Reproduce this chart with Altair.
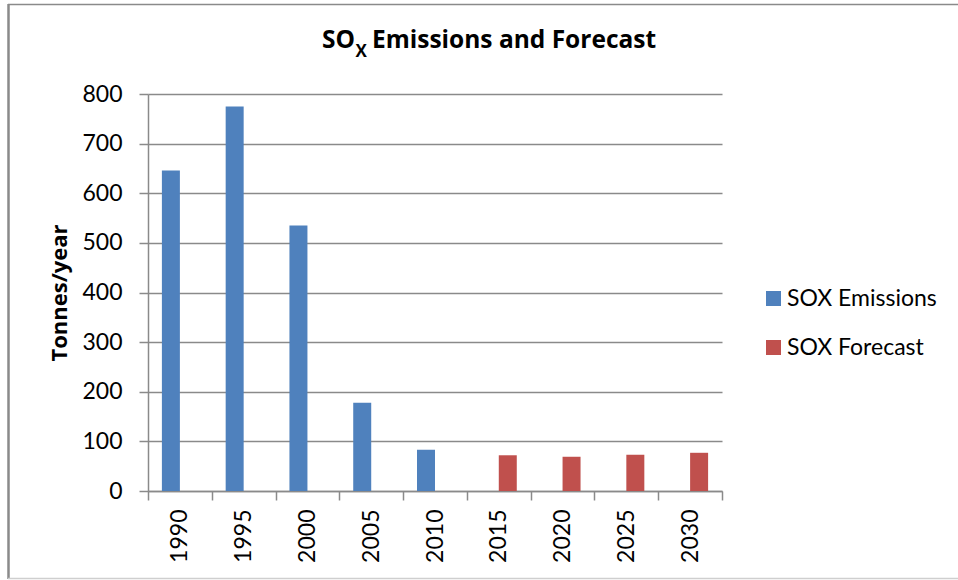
import altair as alt
import pandas as pd

# ---- data ----
years = ["1990", "1995", "2000", "2005", "2010", "2015", "2020", "2025", "2030"]
emissions = [646, 775, 535, 178, 83, None, None, None, None]
forecast = [None, None, None, None, None, 72, 69, 73, 77]
series = ["SOX Emissions", "SOX Forecast"]
colors = ["#4F81BD", "#C0504D"]
y_ticks = [0, 100, 200, 300, 400, 500, 600, 700, 800]

rows = []
for yr, e, f in zip(years, emissions, forecast):
    if e is not None:
        rows.append({"year": yr, "series": series[0], "value": e})
    if f is not None:
        rows.append({"year": yr, "series": series[1], "value": f})
df = pd.DataFrame(rows)

FONT = "Lato"
TFONT = "Open Sans"
GRID = "#8a8a8a"

bars = alt.Chart(df).mark_bar().encode(
    x=alt.X(
        "year:N",
        sort=years,
        scale=alt.Scale(domain=years, paddingInner=0, paddingOuter=0),
        axis=alt.Axis(
            title=None, labelAngle=-90, tickBand="extent", grid=False,
            labelFont=FONT, labelFontSize=23, labelColor="#000000",
            labelPadding=9, tickSize=9, tickColor=GRID, domainColor=GRID,
            domainWidth=1.5, tickWidth=1.5,
        ),
    ),
    xOffset=alt.XOffset(
        "series:N",
        scale=alt.Scale(domain=series, paddingInner=0, paddingOuter=0.772),
    ),
    y=alt.Y(
        "value:Q",
        scale=alt.Scale(domain=[0, 800], nice=False),
        axis=alt.Axis(
            values=y_ticks, title="Tonnes/year", titleFont=TFONT, titleFontSize=22,
            titleFontWeight="bold", titleColor="#000000", titlePadding=10,
            labelFont=FONT, labelFontSize=23, labelColor="#000000",
            labelPadding=17, tickSize=9, tickColor=GRID, domainColor=GRID,
            domainWidth=1.5, tickWidth=1.5, grid=True, gridColor=GRID, gridWidth=1.5,
        ),
    ),
    color=alt.Color(
        "series:N",
        scale=alt.Scale(domain=series, range=colors),
        legend=alt.Legend(
            title=None, orient="none", legendX=614, legendY=193,
            symbolType="square", symbolSize=225, symbolStrokeWidth=0,
            labelFont=FONT, labelFontSize=23, labelColor="#000000",
            rowPadding=25, labelOffset=2, padding=0,
        ),
    ),
)

one = alt.Data(values=[{}])

title_so = alt.Chart(one).mark_text(
    text="SO", font=TFONT, fontSize=24.5, fontWeight="bold", align="right",
    baseline="alphabetic", color="#000000",
).encode(x=alt.value(207), y=alt.value(-46))

title_x = alt.Chart(one).mark_text(
    text="X", font=TFONT, fontSize=17, fontWeight="bold", align="left",
    baseline="alphabetic", color="#000000",
).encode(x=alt.value(207.5), y=alt.value(-37))

title_rest = alt.Chart(one).mark_text(
    text="Emissions and Forecast", font=TFONT, fontSize=24.5, fontWeight="bold",
    align="left", baseline="alphabetic", color="#000000",
).encode(x=alt.value(224), y=alt.value(-46))

frame_top = alt.Chart(one).mark_rule(color="#8a8a8a", strokeWidth=1.5).encode(
    x=alt.value(-140), x2=alt.value(820), y=alt.value(-89.5)
)
frame_left = alt.Chart(one).mark_rule(color="#8a8a8a", strokeWidth=2.5).encode(
    x=alt.value(-139.5), y=alt.value(-90), y2=alt.value(485)
)
frame_bottom = alt.Chart(one).mark_rule(color="#cfcfcf", strokeWidth=1.5).encode(
    x=alt.value(-140), x2=alt.value(820), y=alt.value(484.5)
)

chart = alt.layer(
    frame_top, frame_left, frame_bottom, bars, title_so, title_x, title_rest
).properties(
    width=574,
    height=397,
    padding={"left": 148, "top": 94, "right": 236, "bottom": 89},
    autosize=alt.AutoSizeParams(type="none"),
    background="#ffffff",
).configure_view(stroke=None)

chart.save("out.html", embed_options={"renderer": "svg", "actions": False})
